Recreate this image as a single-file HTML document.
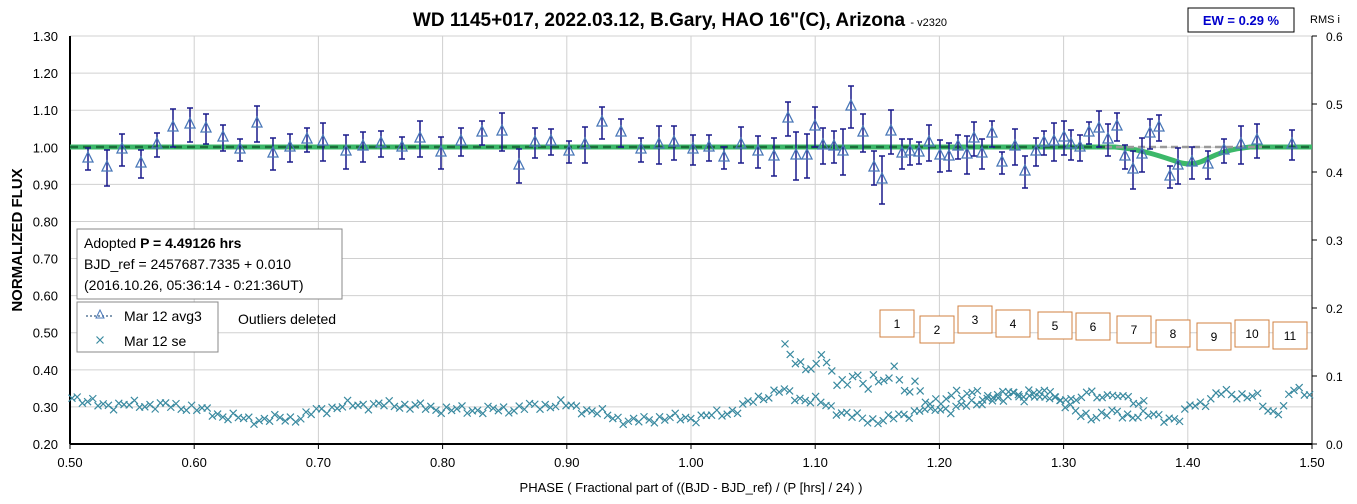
<!DOCTYPE html>
<html><head><meta charset="utf-8"><style>
body{margin:0;background:#fff;width:1357px;height:499px;overflow:hidden;font-family:"Liberation Sans",Arial,sans-serif}
</style></head><body>
<svg id="s" width="1357" height="499" xmlns="http://www.w3.org/2000/svg" font-family="Liberation Sans, Arial, sans-serif"></svg>
<script>
const s=document.getElementById('s');let h='';
const X=p=>70+(p-0.5)*1242, Y=v=>444-(v-0.2)*370.9;
for(let i=0;i<=11;i++){let y=Y(0.2+i*0.1);h+=`<line x1="70" x2="1312" y1="${y}" y2="${y}" stroke="#d0d0d0"/>`;
h+=`<text x="58" y="${y+5}" font-size="13" text-anchor="end">${(0.2+i*0.1).toFixed(2)}</text>`;}
for(let i=0;i<=10;i++){let x=X(0.5+i*0.1);h+=`<line x1="${x}" x2="${x}" y1="36" y2="444" stroke="#d0d0d0"/>`;
h+=`<text x="${x}" y="467" font-size="13" text-anchor="middle">${(0.5+i*0.1).toFixed(2)}</text><line x1="${x}" x2="${x}" y1="444" y2="449" stroke="#000"/>`;}
for(let i=0;i<=6;i++){let y=444-i*68;h+=`<text x="1326" y="${y+5}" font-size="12">${i==0?'0.0':(i/10).toFixed(1)}</text><line x1="1312" x2="1317" y1="${y}" y2="${y}" stroke="#000"/>`;}
h+=`<line x1="70" x2="70" y1="36" y2="444" stroke="#000" stroke-width="2"/><line x1="70" x2="1312" y1="444" y2="444" stroke="#000" stroke-width="2"/><line x1="1312" x2="1312" y1="36" y2="444" stroke="#000"/>`;
h+=`<path d="M70 147 L1115 147 C1140 149,1160 156,1175 161 C1185 165,1195 165,1205 160 C1220 152,1232 149,1250 147 L1312 147" fill="none" stroke="#3cb86a" stroke-width="5"/>`;
h+=`<line x1="70" x2="1105" y1="147" y2="147" stroke="#1a6e3a" stroke-width="2.5" stroke-dasharray="8,5"/>`;
h+=`<line x1="1105" x2="1262" y1="147" y2="147" stroke="#999" stroke-width="2.5" stroke-dasharray="7,4"/>`;
h+=`<line x1="1262" x2="1312" y1="147" y2="147" stroke="#1a6e3a" stroke-width="2.5" stroke-dasharray="8,5"/>`;
const T=[[88,159],[107,168],[122,150],[141,164],[157,145],[173,128],[190,125],[206,129],[223,138],[240,150],[257,124],[273,154],[290,148],[307,140],[323,142],[346,152],[363,147],[381,144],[402,148],[420,139],[441,153],[461,142],[482,133],[502,132],[519,166],[535,143],[551,142],[569,152],[585,145],[602,123],[621,133],[641,150],[659,145],[674,143],[693,150],[709,148],[724,158],[741,145],[758,152],[774,157],[788,119],[796,156],[807,156],[815,127],[823,146],[834,147],[843,152],[851,107],[863,133],[874,168],[882,180],[891,132],[902,154],[910,152],[919,153],[929,143],[940,156],[949,157],[958,147],[967,155],[974,139],[982,154],[992,134],[1002,163],[1015,147],[1025,172],[1036,152],[1044,143],[1054,142],[1064,138],[1071,145],[1080,148],[1089,133],[1099,129],[1108,140],[1117,127],[1125,157],[1133,170],[1142,155],[1150,134],[1159,128],[1170,177],[1178,166],[1192,163],[1208,165],[1224,151],[1241,145],[1257,141],[1292,145]];
T.forEach((t,i)=>{let [x,y]=t,e=11+((i*7)%9);if(x>760&&x<900)e+=5;
h+=`<path d="M${x} ${y-e}V${y+e}M${x-3} ${y-e}h6M${x-3} ${y+e}h6" stroke="#1a1a8c" stroke-width="1.5"/>`;
h+=`<path d="M${x} ${y-7}L${x+5} ${y+3}L${x-5} ${y+3}Z" fill="none" stroke="#4a78b8" stroke-width="1.3"/>`;});
function interp(P,x){for(let i=0;i<P.length-1;i++){if(x>=P[i][0]&&x<=P[i+1][0]){let f=(x-P[i][0])/(P[i+1][0]-P[i][0]);return P[i][1]+f*(P[i+1][1]-P[i][1]);}}return P[P.length-1][1];}
const A=[[70,393],[80,400],[100,405],[150,405],[190,407],[220,415],[250,420],[300,418],[320,410],[350,405],[400,405],[450,410],[500,410],[560,404],[600,413],[630,422],[660,418],[698,418],[738,410],[754,400],[782,390],[797,398],[817,401],[835,410],[865,420],[885,420],[904,415],[924,409],[952,409],[976,403],[1000,396],[1016,393],[1039,393],[1055,396],[1063,403],[1079,415],[1095,416],[1115,413],[1135,416],[1155,415],[1171,419],[1183,421],[1187,405],[1207,402],[1223,392],[1239,395],[1259,398],[1267,411],[1283,410],[1291,390],[1312,393]];
const B=[[785,344],[791,354],[797,365],[809,369],[825,356],[831,368],[837,386],[857,375],[865,389],[873,377],[881,385],[893,368],[899,379],[905,391],[915,386],[921,390],[928,408],[952,395],[976,393],[996,400],[1012,393],[1028,400],[1040,395],[1055,396],[1071,402],[1079,396],[1091,393],[1107,398],[1119,393],[1131,402],[1145,402]];
function cross(x,y){return `<path d="M${x-3.5} ${y-3.5}l7 7M${x-3.5} ${y+3.5}l7 -7" stroke="#3a8aa0" stroke-width="1.2"/>`;}
let k=0;for(let x=72;x<=1310;x+=5.2){k++;let j=Math.sin(k*2.3)*3+Math.sin(k*0.9)*2;h+=cross(x,interp(A,x)+j);}
for(let x=785;x<=1145;x+=5.2){k++;let j=Math.sin(k*1.7)*3+Math.sin(k*3.1)*2;h+=cross(x,interp(B,x)+j);}
h+=`<text x="680" y="26" font-size="19" font-weight="bold" text-anchor="middle">WD 1145+017, 2022.03.12, B.Gary, HAO 16"(C), Arizona <tspan font-size="11" font-weight="normal">- v2320</tspan></text>`;
h+=`<rect x="1188" y="8" width="106" height="24" fill="#fff" stroke="#000"/><text x="1241" y="25" font-size="13" font-weight="bold" fill="#0000cc" text-anchor="middle">EW = 0.29 %</text>`;
h+=`<text x="1310" y="23" font-size="11">RMS i</text>`;
h+=`<text x="22" y="240" font-size="15" font-weight="bold" text-anchor="middle" transform="rotate(-90 22 240)">NORMALIZED FLUX</text>`;
h+=`<text x="691" y="492" font-size="13" text-anchor="middle">PHASE ( Fractional part of ((BJD - BJD_ref) / (P [hrs] / 24) )</text>`;
h+=`<rect x="77" y="229" width="265" height="70" fill="#fff" stroke="#888"/>`;
h+=`<text x="84" y="248" font-size="14">Adopted <tspan font-weight="bold">P = 4.49126 hrs</tspan></text><text x="84" y="269" font-size="14">BJD_ref = 2457687.7335 + 0.010</text><text x="84" y="290" font-size="14">(2016.10.26, 05:36:14 - 0:21:36UT)</text>`;
h+=`<rect x="77" y="302" width="141" height="50" fill="#fff" stroke="#888"/>`;
h+=`<line x1="86" x2="114" y1="316" y2="316" stroke="#5a7a9a" stroke-dasharray="2,2" stroke-width="1.5"/><path d="M100 310L104 318H96Z" fill="none" stroke="#4a78b8"/>`;
h+=`<text x="124" y="321" font-size="14">Mar 12 avg3</text>`+cross(100,340)+`<text x="124" y="346" font-size="14">Mar 12 se</text>`;
h+=`<text x="238" y="324" font-size="14">Outliers deleted</text>`;
const Bx=[[880,310,1],[920,316,2],[958,306,3],[996,310,4],[1038,312,5],[1076,313,6],[1117,316,7],[1156,320,8],[1197,323,9],[1235,320,10],[1273,322,11]];
Bx.forEach(b=>{h+=`<rect x="${b[0]}" y="${b[1]}" width="34" height="27" fill="#fff" stroke="#d08040"/><text x="${b[0]+17}" y="${b[1]+18}" font-size="12" text-anchor="middle">${b[2]}</text>`;});
s.innerHTML=h;
</script>
</body></html>
